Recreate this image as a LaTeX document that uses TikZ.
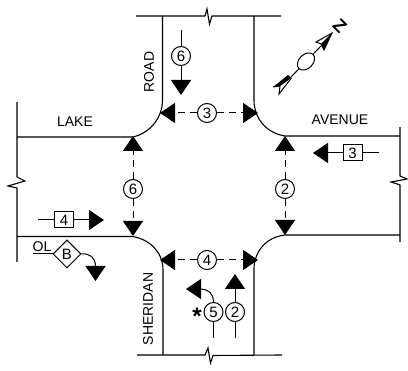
\documentclass[tikz,border=0pt]{standalone}
\usepackage{fontspec}
\setmainfont{Liberation Sans}
\usetikzlibrary{arrows.meta,shapes.geometric}
\tikzset{
  curb/.style={line width=1.1pt,line join=miter},
  numfont/.style={font=\fontsize{15}{15}\selectfont},
  phasecirc/.style={circle,draw,line width=1pt,minimum size=19pt,inner sep=0pt,fill=white,numfont},
  phasebox/.style={rectangle,draw,line width=1pt,minimum width=19pt,minimum height=16pt,inner sep=0pt,fill=white,numfont},
  phasedia/.style={diamond,draw,line width=1pt,minimum width=28pt,minimum height=28pt,inner sep=0pt,fill=white,numfont},
  bighead/.style={-{Triangle[length=15pt,width=20pt]}},
  veh/.style={line width=1pt,bighead},
  ped/.style={line width=1pt,dash pattern=on 7pt off 5pt,bighead},
  stem/.style={line width=1pt},
  roadname/.style={font=\fontsize{14}{14}\selectfont,inner sep=0pt},
}
\begin{document}
\begin{tikzpicture}[x=1pt,y=-1pt]
\useasboundingbox (0,0) rectangle (408,371);
% curbs
\draw[curb] (17,137) -- (133,137) .. controls (150,133) and (162.5,118) .. (162.5,100) -- (162.5,16);
\draw[curb] (136,16) -- (205,16) -- (207,9) -- (209.5,24) -- (212,16) -- (281,16);
\draw[curb] (254,16) -- (254,100) .. controls (254,118) and (266,133) .. (285,136) -- (400,136);
\draw[curb] (400,127) -- (400,176) -- (407,179) -- (391,182) -- (400,185) -- (400,242);
\draw[curb] (400,235) -- (285,235) .. controls (266,237) and (254,252) .. (254,269) -- (254,355);
\draw[curb] (137,355) -- (205,355) -- (208,348) -- (210.5,363) -- (213,355.5) -- (282,355);
\draw[curb] (163,355) -- (163,270) .. controls (163,253) and (151,240) .. (133,236.5) -- (17,236.5);
\draw[curb] (17,102) -- (17,177) -- (25,181) -- (8,186) -- (17,188) -- (17,262);
% road names
\node[roadname] (lake) at (75,122) {LAKE};
\node[roadname] (avenue) at (340,120) {AVENUE};
\node[roadname,rotate=90] (road) at (149,72) {ROAD};
\node[roadname,rotate=90] (sheridan) at (148,309) {SHERIDAN};
% top vehicle 6
\coordinate (t6a) at (181,30); \coordinate (t6b) at (181,95);
\draw[veh] (t6a) -- (t6b);
\node[phasecirc] (t6) at (181,56) {6};
% pedestrian 3
\node[phasecirc] (p3) at (207,113) {3};
\coordinate (p3l) at (160,113); \coordinate (p3r) at (258,113);
\draw[ped] (p3) -- (p3l); \draw[ped] (p3) -- (p3r);
% pedestrian 4
\node[phasecirc] (p4) at (207,260) {4};
\coordinate (p4l) at (160,260); \coordinate (p4r) at (258,260);
\draw[ped] (p4) -- (p4l); \draw[ped] (p4) -- (p4r);
% pedestrian 6
\node[phasecirc] (p6) at (133,189) {6};
\coordinate (p6t) at (133,136); \coordinate (p6b) at (133,236);
\draw[ped] (p6) -- (p6t); \draw[ped] (p6) -- (p6b);
% pedestrian 2
\node[phasecirc] (p2) at (285,189) {2};
\coordinate (p2t) at (285,136); \coordinate (p2b) at (285,235);
\draw[ped] (p2) -- (p2t); \draw[ped] (p2) -- (p2b);
% box 4
\coordinate (b4a) at (38,220); \coordinate (b4b) at (104,220);
\draw[veh] (b4a) -- (b4b);
\node[phasebox] (b4) at (64,220) {4};
% box 3
\coordinate (b3a) at (379,153); \coordinate (b3b) at (313,153);
\draw[veh] (b3a) -- (b3b);
\node[phasebox] (b3) at (352.5,153) {3};
% overlap B
\node[phasedia] (ob) at (67,254) {B};
\coordinate (ola) at (33,254); \coordinate (obt) at (95.5,281);
\draw[stem] (ola) -- (ob);
\draw[veh] (ob.east) .. controls (90,253) and (95.5,258) .. (95.5,266) -- (obt);
\node[inner sep=0pt,font=\fontsize{14}{14}\selectfont] (ol) at (42,246.5) {OL};
% bottom 2
\coordinate (s2a) at (235,338); \coordinate (s2b) at (235,274);
\draw[veh] (s2a) -- (s2b);
\node[phasecirc] (s2) at (235,312) {2};
% bottom 5
\coordinate (s5a) at (213.5,338); \coordinate (s5b) at (186,289);
\node[phasecirc] (s5) at (213.5,312) {5};
\draw[stem] (s5a) -- (s5);
\draw[veh] (s5) -- (213.5,301) .. controls (213.5,294) and (208,289) .. (201,289) -- (s5b);
\node[inner sep=0pt,font=\bfseries\fontsize{24}{24}\selectfont] (star) at (197,316) {*};
% north arrow
\coordinate (nt) at (291,77); \coordinate (nh) at (321,46);
\node[ellipse,draw,line width=1pt,minimum width=20pt,minimum height=14pt,inner sep=0pt,rotate=45] (ne) at (306,61.5) {};
\draw[stem] (nt) -- (ne); \draw[stem] (ne) -- (nh);
\fill (273,87) -- (288,75) -- (291.5,78) -- (280,86) -- cycle;
\draw[line width=1pt,line join=miter] (273,87) -- (280,86) -- (279,94) -- (291.5,78);
\draw[line width=1pt,fill=white,line join=miter] (332,33) -- (316,42) -- (321,44) -- (324,50) -- cycle;
\fill (332,33) -- (321,44) -- (324,50) -- cycle;
\node[rotate=-45,inner sep=0pt,font=\bfseries\fontsize{18}{18}\selectfont] (north) at (340,26) {Z};
\end{tikzpicture}
\end{document}
